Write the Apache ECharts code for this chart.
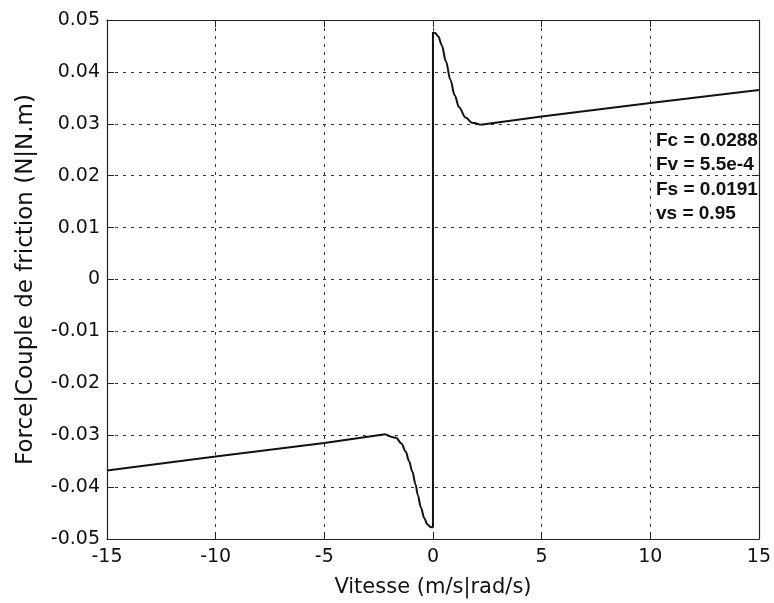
<!DOCTYPE html>
<html>
<head>
<meta charset="utf-8">
<title>Friction</title>
<script src="https://cdn.jsdelivr.net/npm/echarts@6/dist/echarts.min.js"></script>
<style>
  html, body { margin: 0; padding: 0; background: #fff; }
  #chart { width: 774px; height: 603px; }
</style>
</head>
<body>
<div id="chart"></div>
<script>
// Friction curve: velocity (m/s | rad/s) vs friction force/torque (N | N.m)
// Viscous (straight) tails
const speedTailNeg = [-15, -10, -5, -2.2];
const forceTailNeg = [-0.0368, -0.0341, -0.0315, -0.0298];
const speedTailPos = [2.2, 5, 10, 15];
const forceTailPos = [0.0298, 0.0314, 0.0340, 0.0365];
// Stribeck region near zero velocity
const speedKneeNeg = [-2.2, -1.7, -1.45, -1.25, -1.1, -0.95, -0.8, -0.7, -0.55, -0.4, -0.25, -0.1, 0];
const forceKneeNeg = [-0.0298, -0.0305, -0.0316, -0.0332, -0.0350, -0.0370, -0.0395, -0.0415, -0.0440, -0.0460, -0.0472, -0.0477, -0.0478];
const speedKneePos = [0, 0.1, 0.25, 0.4, 0.6, 0.8, 1.0, 1.2, 1.5, 1.8, 2.2];
const forceKneePos = [0.0477, 0.0475, 0.0468, 0.0452, 0.0420, 0.0385, 0.0355, 0.0332, 0.0312, 0.0302, 0.0298];

// Identified model parameters shown in the legend box
const paramLines = ['Fc = 0.0288', 'Fv = 5.5e-4', 'Fs = 0.0191', 'vs = 0.95'];

const xTitle = 'Vitesse (m/s|rad/s)';
const yTitle = 'Force|Couple de friction (N|N.m)';

const pairs = (xs, ys) => xs.map((v, i) => [v, ys[i]]);
// sign change at zero velocity: vertical jump between the two branches
const jump = [[0, forceKneeNeg[forceKneeNeg.length - 1]], [0, forceKneePos[0]]];

const tickFont = { fontFamily: 'DejaVu Sans', fontSize: 19, color: '#111' };
const frameLine = { show: true, onZero: false, lineStyle: { color: '#222', width: 1.2 } };
const ticksIn = { show: true, inside: true, length: 7, lineStyle: { color: '#222', width: 1 } };
const dotted = { show: true, lineStyle: { color: '#333', width: 1, type: [3, 5] } };
const curveStyle = { color: '#111', width: 2 };

const straight = data => ({ type: 'line', data, showSymbol: false, lineStyle: curveStyle, z: 5 });
const curved = data => ({ type: 'line', data, showSymbol: false, smooth: 0.35, smoothMonotone: 'x', lineStyle: curveStyle, z: 5 });

const chart = echarts.init(document.getElementById('chart'), null, { renderer: 'canvas' });
chart.setOption({
  backgroundColor: '#fff',
  animation: false,
  grid: { left: 107, right: 13, top: 20, bottom: 62 },
  xAxis: [
    {
      type: 'value', min: -15, max: 15, interval: 5,
      position: 'bottom',
      name: xTitle, nameLocation: 'middle', nameGap: 38,
      nameTextStyle: { fontFamily: 'DejaVu Sans', fontSize: 21, color: '#111' },
      axisLine: frameLine, axisTick: ticksIn,
      axisLabel: Object.assign({ margin: 9 }, tickFont),
      splitLine: dotted
    },
    {
      type: 'value', min: -15, max: 15, interval: 5,
      position: 'top',
      axisLine: frameLine, axisTick: ticksIn,
      axisLabel: { show: false }, splitLine: { show: false }
    }
  ],
  yAxis: [
    {
      type: 'value', min: -0.05, max: 0.05, interval: 0.01,
      position: 'left',
      name: yTitle, nameLocation: 'middle', nameGap: 69, nameRotate: 90,
      nameTextStyle: { fontFamily: 'DejaVu Sans', fontSize: 23, color: '#111' },
      axisLine: frameLine, axisTick: ticksIn,
      axisLabel: Object.assign({
        margin: 7,
        formatter: v => (Math.abs(v) < 1e-9 ? '0' : v.toFixed(2))
      }, tickFont),
      splitLine: dotted
    },
    {
      type: 'value', min: -0.05, max: 0.05, interval: 0.01,
      position: 'right',
      axisLine: frameLine, axisTick: ticksIn,
      axisLabel: { show: false }, splitLine: { show: false }
    }
  ],
  series: [
    straight(pairs(speedTailNeg, forceTailNeg)),
    curved(pairs(speedKneeNeg, forceKneeNeg)),
    straight(jump),
    curved(pairs(speedKneePos, forceKneePos)),
    straight(pairs(speedTailPos, forceTailPos))
  ],
  graphic: paramLines.map((t, i) => ({
    type: 'text',
    left: 656,
    top: 131 + i * 24.5,
    z: 10,
    style: {
      text: t,
      fontFamily: 'Liberation Sans',
      fontWeight: 'bold',
      fontSize: 19,
      fill: '#111'
    }
  }))
});
</script>
</body>
</html>
